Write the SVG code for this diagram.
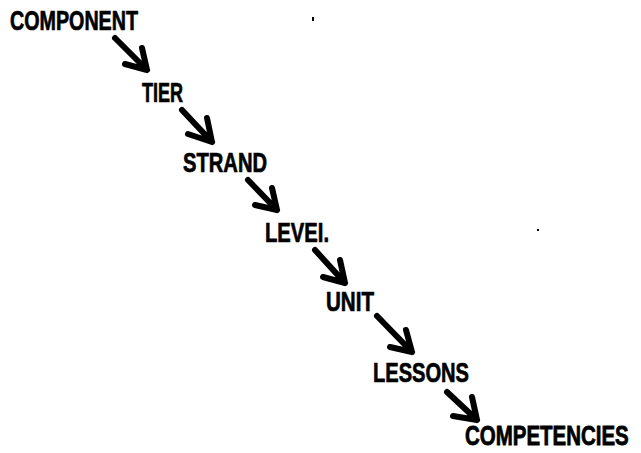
<svg xmlns="http://www.w3.org/2000/svg" width="641" height="453" viewBox="0 0 641 453">
<style>
.lbl{font-family:"Liberation Sans",Arial,sans-serif;font-weight:bold;font-size:27px;fill:#000;stroke:#000;stroke-width:0.7;}
.lbl.small{font-size:21px;stroke-width:0.6;}
.arr{fill:none;stroke:#000;stroke-width:6;stroke-linecap:round;stroke-linejoin:round;}
</style>
<rect width="641" height="453" fill="#fff"/>
<g id="connectors">
<path class="arr" d="M115,38 L147,70 M142,48 L147,70 L125,64"/>
<path class="arr" d="M182,110 L212,142 M207,118 L212,142 L188,134"/>
<path class="arr" d="M248,180 L277,210 M272,188 L277,210 L255,205"/>
<path class="arr" d="M315,250 L345,283 M340,260 L345,283 L323,277"/>
<path class="arr" d="M377,316 L412,352 M406,330 L412,352 L390,347"/>
<path class="arr" d="M447,392 L477,420 M472,397 L477,420 L453,416"/>
</g>
<g id="component"><text class="lbl" x="10" y="30" textLength="128" lengthAdjust="spacingAndGlyphs">COMPONENT</text></g>
<g id="tier"><text class="lbl" x="142" y="102" textLength="41" lengthAdjust="spacingAndGlyphs">TIER</text></g>
<g id="strand"><text class="lbl" x="183" y="172" textLength="84" lengthAdjust="spacingAndGlyphs">STRAND</text></g>
<g id="level"><text class="lbl" x="265" y="242" textLength="64" lengthAdjust="spacingAndGlyphs">LEVEI.</text></g>
<g id="unit"><text class="lbl" x="326" y="311" textLength="48" lengthAdjust="spacingAndGlyphs">UNIT</text></g>
<g id="lessons"><text class="lbl" x="373" y="382" textLength="96" lengthAdjust="spacingAndGlyphs">LESSONS</text></g>
<g id="competencies"><text class="lbl small" transform="translate(465,445) scale(0.975,1.28)" x="0" y="0">COMPETENCIES</text></g>
<rect x="312" y="17" width="2" height="4" fill="#000"/>
<rect x="537" y="229" width="2" height="2" fill="#000"/>
</svg>
